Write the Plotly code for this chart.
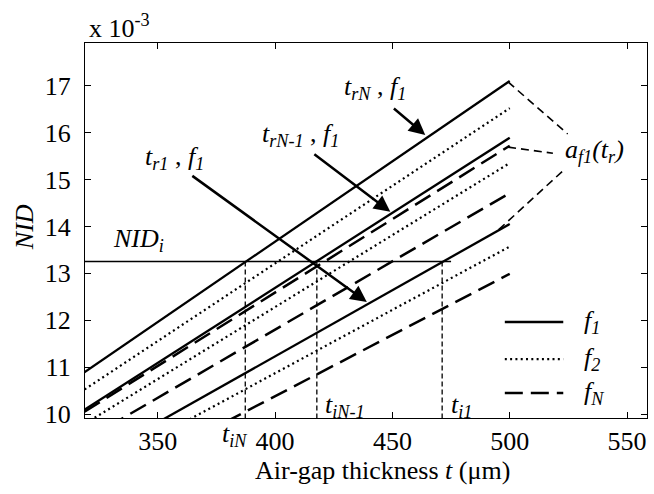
import plotly.graph_objects as go

# ---------------- data (NID in units of 1e-3) ----------------
t_line = [300, 500]                      # air-gap thickness (um) at line ends
# group t_rN
nid_rN_f1 = [10.25, 17.10]
nid_rN_f2 = [9.90, 16.52]
nid_rN_fN = [9.46, 15.72]
# group t_rN-1
nid_rN1_f1 = [9.49, 15.89]
nid_rN1_f2 = [9.21, 15.35]
nid_rN1_fN = [8.89, 14.71]
# group t_r1
nid_r1_f1 = [8.41, 14.05]
nid_r1_f2 = [8.17, 13.57]
nid_r1_fN = [7.77, 12.99]

NID_i = 13.25
t_i_line_end = [300, 475]
t_iN, t_iN1, t_i1 = 387.3, 417.8, 471.2

x_ticks = [350, 400, 450, 500, 550]
y_ticks = [10, 11, 12, 13, 14, 15, 16, 17]

# ---------------- styles ----------------
FONT = "Liberation Serif"
FS = 26
SOLID = dict(color="black", width=2.3, dash="solid")
DOT = dict(color="black", width=2.2, dash="2px,3.3px")
DASH = dict(color="black", width=2.5, dash="18px,8px")

fig = go.Figure()

series = [
    (nid_rN_f1, SOLID), (nid_rN_f2, DOT), (nid_rN_fN, DASH),
    (nid_rN1_f1, SOLID), (nid_rN1_f2, DOT), (nid_rN1_fN, DASH),
    (nid_r1_f1, SOLID), (nid_r1_f2, DOT), (nid_r1_fN, DASH),
]
for vals, st in series:
    fig.add_trace(go.Scatter(x=t_line, y=vals, mode="lines", line=st,
                             showlegend=False, hoverinfo="skip"))

# NID_i horizontal line
fig.add_trace(go.Scatter(x=t_i_line_end, y=[NID_i, NID_i], mode="lines",
                         line=dict(color="black", width=1.6),
                         showlegend=False, hoverinfo="skip"))
# vertical dashed drops
for ti in (t_iN, t_iN1, t_i1):
    fig.add_trace(go.Scatter(x=[ti, ti], y=[NID_i, 9.0], mode="lines",
                             line=dict(color="black", width=1.3, dash="5px,3px"),
                             showlegend=False, hoverinfo="skip"))

# a_f1(t_r) leader lines
leaders = [
    ([499.3, 524.7], [17.08, 15.97]),
    ([499.3, 518.4], [15.69, 15.56]),
    ([495.3, 523.0], [13.93, 15.20]),
]
for lx, ly in leaders:
    fig.add_trace(go.Scatter(x=lx, y=ly, mode="lines",
                             line=dict(color="black", width=1.6, dash="8px,5px"),
                             showlegend=False, hoverinfo="skip", cliponaxis=False))

ann = []
# arrows (head x,y ; tail ax,ay)
arrows = [
    (464.0, 15.95, 450.0, 16.54),
    (449.1, 14.31, 416.1, 15.56),
    (439.1, 12.39, 364.1, 15.10),
]
for hx, hy, tx, ty in arrows:
    ann.append(dict(x=hx, y=hy, ax=tx, ay=ty, xref="x", yref="y", axref="x", ayref="y",
                    text="", showarrow=True, arrowhead=2, arrowsize=1.3,
                    arrowwidth=2.5, arrowcolor="black"))

def txt(x, y, s, xref="x", yref="y", xa="center", ya="middle", angle=0, size=FS):
    ann.append(dict(x=x, y=y, xref=xref, yref=yref, text=s, showarrow=False,
                    xanchor=xa, yanchor=ya, textangle=angle,
                    font=dict(family=FONT, size=size, color="black")))

txt(442.5, 16.95, "<i>t<sub>rN</sub></i> , <i>f<sub>1</sub></i>")
txt(411.0, 15.95, "<i>t<sub>rN-1</sub></i> , <i>f<sub>1</sub></i>")
txt(357.0, 15.46, "<i>t<sub>r1</sub></i> , <i>f<sub>1</sub></i>")
txt(341.6, 13.71, "<i>NID<sub>i</sub></i>")
txt(522.8, 15.6, "<i>a<sub>f1</sub>(t<sub>r</sub>)</i>", xa="left")
txt(389.0, -0.045, "<i>t<sub>iN</sub></i>", yref="paper", xa="right")
txt(420.5, 10.17, "<i>t<sub>iN-1</sub></i>", xa="left")
txt(474.2, 10.17, "<i>t<sub>i1</sub></i>", xa="left")

# axis titles and exponent
txt(0.530, -0.139, "Air-gap thickness <i>t</i> (μm)", xref="paper", yref="paper")
txt(-0.1085, 0.509, "<i>NID</i>", xref="paper", yref="paper", angle=-90)
txt(0.004, 1.045, "x 10<sup>-3</sup>", xref="paper", yref="paper", xa="left")

# legend (manual)
shapes = []
leg = [(0.256, SOLID, "<i>f<sub>1</sub></i>"),
       (0.157, DOT, "<i>f<sub>2</sub></i>"),
       (0.067, DASH, "<i>f<sub>N</sub></i>")]
for ly, st, lab in leg:
    shapes.append(dict(type="line", xref="paper", yref="paper",
                       x0=0.747, x1=0.851, y0=ly, y1=ly,
                       line=dict(color="black", width=st["width"], dash=st["dash"])))
    txt(0.884, ly, lab, xref="paper", yref="paper", xa="left")

axis_common = dict(showgrid=False, zeroline=False, showline=True, linecolor="black",
                   linewidth=1.3, mirror="ticks", ticks="inside", ticklen=6,
                   tickcolor="black", tickwidth=1.2,
                   tickfont=dict(family=FONT, size=FS, color="black"))

fig.update_layout(
    width=654, height=494,
    margin=dict(l=85, r=7, t=43, b=76),
    paper_bgcolor="white", plot_bgcolor="white",
    showlegend=False,
    xaxis=dict(range=[319, 558.5], tickvals=x_ticks, **axis_common),
    yaxis=dict(range=[9.915, 17.91], tickvals=y_ticks, ticklabelstandoff=8,
               **axis_common),
    annotations=ann, shapes=shapes,
    font=dict(family=FONT, size=FS, color="black"),
)

fig.write_html("out.html")
